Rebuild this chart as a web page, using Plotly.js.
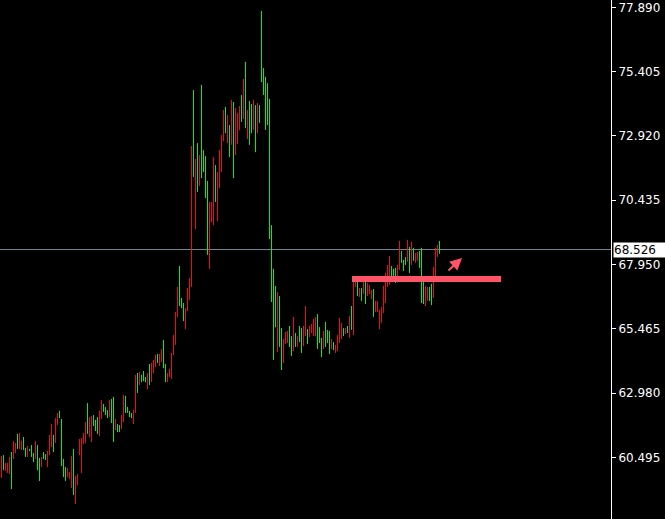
<!DOCTYPE html>
<html>
<head>
<meta charset="utf-8">
<script src="https://cdn.plot.ly/plotly-3.0.1.min.js"></script>
<style>
  html, body { margin: 0; padding: 0; background: #000; }
  #chart { width: 665px; height: 519px; }
</style>
</head>
<body>
<div id="chart"></div>
<script>
// Bar highs, oldest first
const barHigh = [
  60.55, 60.58, 60.28, 60.28, 60.51, 60.70, 61.13, 61.05, 61.40, 61.43,
  61.13, 61.28, 60.86, 60.93, 60.82, 60.97, 60.66, 61.13, 60.97, 60.47,
  60.51, 60.70, 60.62, 60.74, 61.36, 61.78, 61.36, 62.01, 62.21, 62.29,
  61.98, 60.43, 60.12, 60.08, 59.93, 60.55, 60.82, 59.77, 59.85,
  61.20, 61.24, 61.43, 61.86, 62.59, 62.05, 62.09, 62.13, 61.94, 62.05,
  62.29, 62.71, 62.56, 62.44, 62.32, 62.71, 62.75, 62.83, 61.98, 61.78,
  61.74, 62.13, 62.90, 62.87, 62.44, 62.29, 62.21, 62.32, 63.68, 63.75,
  63.79, 63.68, 63.83, 63.60, 63.75, 64.10, 64.14, 64.26,
  64.45, 64.49, 64.49, 64.68, 65.03, 64.10, 63.75, 63.91, 64.53, 65.22,
  66.11, 67.08, 67.89, 66.65, 66.46, 66.26, 67.04, 67.42, 72.53,
  74.69, 72.03, 72.64, 72.18, 74.89, 72.37, 72.14, 71.18, 70.36, 70.36,
  72.10, 71.79, 71.52, 72.37, 72.95, 73.92, 74.04, 73.73, 73.34, 74.31,
  74.23, 74.00, 73.80, 74.07, 74.50, 75.12, 75.78, 73.92, 74.27, 74.15,
  74.31, 74.11, 74.19, 74.11, 77.75, 75.54, 75.20, 74.96, 74.35, 69.47,
  67.78, 67.12, 66.88, 66.73, 65.49, 65.07, 65.34, 65.38, 65.57, 65.18,
  65.92, 65.30, 65.18, 65.57, 65.49, 65.57, 66.34, 65.45, 65.57, 65.65,
  65.84, 65.92, 66.03, 65.53, 65.11, 65.38, 65.73, 65.42, 65.38, 65.07,
  64.95, 64.84, 65.22, 65.88, 65.69, 65.49, 65.49, 65.57, 65.96, 66.34,
  67.47, 67.31, 67.27, 67.04, 67.04, 67.27, 67.27, 67.23, 67.16, 66.96,
  67.00, 66.54, 66.54, 66.19, 66.30, 67.12, 67.62, 67.93, 68.28, 67.89,
  67.78, 67.82, 67.93, 68.86, 68.47, 68.12, 68.23, 68.90, 68.63, 68.82,
  68.59, 68.39, 68.43, 68.47, 68.59, 67.27, 67.12, 67.08, 67.08, 67.20,
  67.85, 68.59, 68.71, 68.86
];

// Bar lows, oldest first
const barLow = [
  59.70, 60.00, 59.97, 59.89, 59.85, 59.27, 60.43, 60.66, 60.82, 60.82,
  60.78, 60.78, 60.51, 60.51, 60.74, 60.51, 60.31, 60.43, 60.00, 59.58,
  60.12, 60.43, 60.39, 60.12, 60.58, 60.89, 60.70, 61.05, 61.74, 62.01,
  60.16, 59.73, 59.58, 59.73, 59.66, 59.31, 59.04, 58.69, 59.42,
  60.58, 59.89, 61.01, 61.05, 61.40, 61.28, 61.09, 61.70, 61.51, 61.40,
  61.32, 61.98, 62.25, 62.13, 62.01, 62.05, 61.82, 61.09, 61.55, 61.47,
  61.47, 61.59, 61.86, 62.21, 62.21, 62.05, 62.01, 61.78, 62.21, 62.98,
  63.29, 63.40, 63.44, 63.40, 63.13, 63.29, 63.40, 63.75,
  63.98, 64.14, 64.02, 64.18, 63.94, 63.40, 63.40, 63.60, 63.52, 64.45,
  64.84, 65.92, 66.34, 66.26, 65.76, 65.45, 66.15, 66.58, 67.08,
  71.33, 69.32, 70.75, 70.98, 71.29, 71.52, 70.52, 68.32, 67.78, 69.59,
  69.47, 70.36, 69.63, 70.90, 71.52, 72.72, 73.02, 72.64, 72.10, 72.57,
  71.29, 72.18, 72.60, 73.14, 73.46, 73.57, 73.22, 72.80, 72.57, 73.02,
  73.15, 72.29, 73.02, 73.42, 75.00, 74.50, 73.15, 73.34, 68.93, 66.50,
  64.26, 65.52, 64.56, 64.76, 63.87, 64.14, 64.87, 64.91, 64.76, 64.41,
  64.60, 64.76, 64.76, 64.95, 64.53, 64.79, 65.18, 64.87, 65.14, 65.30,
  65.18, 65.18, 64.68, 64.91, 64.37, 64.68, 64.76, 64.91, 64.49, 64.68,
  64.64, 64.53, 64.60, 64.91, 65.07, 65.18, 65.26, 65.30, 65.11, 65.42,
  65.22, 67.08, 66.73, 66.69, 66.54, 66.81, 66.42, 66.73, 66.81, 66.61,
  65.92, 66.11, 66.11, 65.45, 65.69, 66.07, 66.46, 67.08, 67.16, 67.31,
  67.42, 67.23, 67.47, 67.74, 68.01, 67.70, 67.93, 68.05, 67.62, 67.93,
  68.09, 68.01, 68.09, 67.82, 66.46, 66.42, 66.34, 66.54, 66.54, 66.38,
  66.65, 67.35, 68.24, 68.36
];

// Bar direction: 1 = bullish (close above open), -1 = bearish
const barDir = [
  -1, 1,-1,-1,-1, 1,-1,-1, 1,-1,
  -1, 1, 1,-1, 1, 1, 1,-1, 1, 1,
  -1, 1, 1,-1,-1,-1, 1,-1,-1, 1,
   1, 1, 1,-1,-1,-1, 1,-1,-1,
  -1,-1,-1,-1, 1,-1,-1, 1, 1, 1,
  -1,-1, 1, 1, 1,-1, 1, 1,-1, 1,
   1,-1,-1, 1, 1, 1, 1,-1,-1, 1,
  -1, 1, 1, 1,-1, 1,-1,-1,
  -1, 1,-1,-1, 1, 1,-1,-1,-1,-1,
  -1,-1, 1, 1, 1,-1,-1,-1,-1,
   1,-1, 1,-1, 1, 1, 1, 1,-1,-1,
  -1, 1,-1,-1,-1,-1, 1,-1, 1,-1,
   1,-1,-1,-1, 1,-1, 1,-1, 1, 1,
  -1, 1,-1, 1, 1, 1, 1, 1, 1, 1,
   1, 1,-1, 1, 1,-1,-1,-1, 1, 1,
  -1, 1,-1, 1, 1,-1,-1, 1,-1,-1,
  -1,-1, 1, 1, 1,-1, 1, 1, 1,-1,
   1,-1,-1,-1,-1, 1,-1, 1,-1, 1,
  -1,-1, 1,-1, 1,-1, 1,-1,-1,-1,
   1,-1,-1,-1,-1,-1,-1,-1,-1, 1,
   1, 1,-1,-1, 1, 1, 1,-1, 1,-1,
   1,-1,-1, 1, 1, 1,-1,-1, 1, 1,
  -1,-1,-1, 1
];

// Price scale labels and the live bid
const priceTicks = [60.495, 62.980, 65.465, 67.950, 70.435, 72.920, 75.405, 77.890];
const lastPrice = 68.526;

// Horizontal support zone drawn on the chart, and the trend arrow
const zoneLow = 67.27, zoneHigh = 67.50;
const zoneFromBar = 175.25, zoneToBar = 249.75;
const arrowTipBar = 230.25, arrowTipPrice = 68.20;

const UP = '#1fe01f', DOWN = '#e01414', MARK = '#ff5468';

const idx = barHigh.map((_, i) => i);
const open = barDir.map((d, i) => d > 0 ? barLow[i] : barHigh[i]);
const close = barDir.map((d, i) => d > 0 ? barHigh[i] : barLow[i]);

const bars = {
  type: 'ohlc',
  x: idx,
  open: open,
  high: barHigh,
  low: barLow,
  close: close,
  tickwidth: 0,
  increasing: { line: { color: UP, width: 1 } },
  decreasing: { line: { color: DOWN, width: 1 } },
  hoverinfo: 'skip',
  showlegend: false
};

const layout = {
  width: 665,
  height: 519,
  margin: { l: 0, r: 54, t: 0, b: 0, pad: 0 },
  paper_bgcolor: '#000000',
  plot_bgcolor: '#000000',
  showlegend: false,
  xaxis: {
    range: [-0.75, 304.75],
    visible: false,
    showgrid: false,
    zeroline: false,
    rangeslider: { visible: false },
    fixedrange: true
  },
  yaxis: {
    side: 'right',
    range: [58.110, 78.172],
    tickvals: priceTicks,
    ticktext: priceTicks.map(v => v.toFixed(3)),
    ticks: 'outside',
    ticklen: 4,
    tickwidth: 1,
    tickcolor: '#ffffff',
    showline: true,
    linecolor: '#ffffff',
    linewidth: 1,
    showgrid: false,
    zeroline: false,
    tickfont: { family: 'DejaVu Sans, sans-serif', size: 12, color: '#ffffff' },
    fixedrange: true
  },
  shapes: [
    {
      type: 'line', xref: 'paper', yref: 'y',
      x0: 0, x1: 1, y0: lastPrice, y1: lastPrice,
      line: { color: '#778899', width: 1 },
      layer: 'below'
    },
    {
      type: 'rect', xref: 'x', yref: 'y',
      x0: zoneFromBar, x1: zoneToBar, y0: zoneLow, y1: zoneHigh,
      fillcolor: MARK, line: { width: 0 },
      layer: 'above'
    }
  ],
  annotations: [
    {
      xref: 'paper', yref: 'y', x: 1, y: lastPrice,
      xanchor: 'left', yanchor: 'middle', xshift: 2,
      text: lastPrice.toFixed(3),
      showarrow: false,
      bgcolor: '#ffffff',
      borderpad: 0,
      width: 52,
      align: 'left',
      font: { family: 'DejaVu Sans, sans-serif', size: 12, color: '#000000' }
    },
    {
      xref: 'x', yref: 'y', x: arrowTipBar, y: arrowTipPrice,
      text: '',
      showarrow: true,
      ax: -15, ay: 14,
      arrowhead: 2,
      arrowsize: 1.2,
      arrowwidth: 2,
      arrowcolor: MARK
    }
  ]
};

Plotly.newPlot('chart', [bars], layout, { staticPlot: true, displayModeBar: false });
</script>
</body>
</html>
